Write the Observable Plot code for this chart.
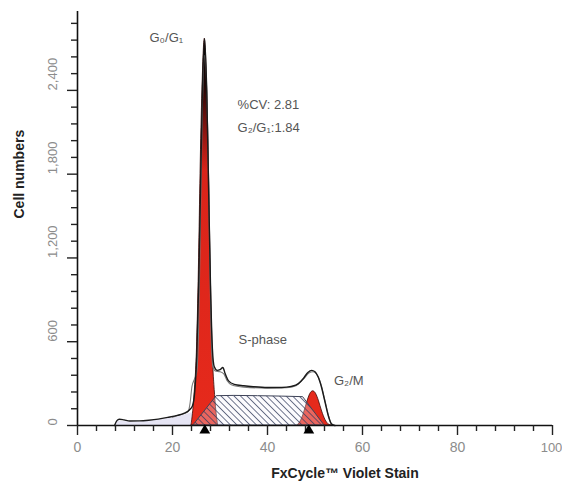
<!DOCTYPE html>
<html>
<head>
<meta charset="utf-8">
<script src="https://cdn.jsdelivr.net/npm/d3@7"></script>
<script src="https://cdn.jsdelivr.net/npm/@observablehq/plot@0.6"></script>
<style>
  html, body { margin: 0; padding: 0; background: #fff; }
  #chart svg { display: block; }
</style>
</head>
<body>
<div id="chart"></div>
<script>
// ---- Data ----
const xTicks = [0, 20, 40, 60, 80, 100];
const xMinor = [4, 8, 12, 16, 24, 28, 32, 36, 44, 48, 52, 56, 64, 68, 72, 76, 84, 88, 92, 96];
const yTicks = [0, 600, 1200, 1800, 2400];
const yMinor = [120, 240, 360, 480, 720, 840, 960, 1080, 1320, 1440, 1560, 1680, 1920, 2040, 2160, 2280, 2520, 2640, 2760, 2880];

// measured histogram (black line)
const dataX = [7.8, 8.3, 8.8, 9.8, 11, 13, 15, 17, 19, 21, 22.5, 23.5, 24.2, 24.7, 25.1, 25.5, 25.9, 26.3, 26.75, 27.2, 27.6, 28, 28.4, 28.8, 29.4, 30, 30.6, 31.1, 31.8, 33, 35, 37, 40, 43, 45, 46.5, 47.5, 48.5, 49.3, 50, 50.7, 51.4, 52.1, 52.8, 53.5, 54.2];
const dataY = [0, 35, 45, 40, 32, 33, 38, 46, 58, 72, 88, 110, 140, 250, 500, 1000, 1700, 2400, 2770, 2400, 1700, 1000, 550, 420, 395, 400, 415, 370, 320, 295, 285, 278, 272, 272, 280, 300, 335, 380, 395, 385, 345, 270, 170, 70, 10, 0];

// model sum (grey line)
const modelX = [20, 22, 23.3, 23.7, 24.1, 24.6, 25.1, 25.5, 25.9, 26.3, 26.8, 27.3, 27.7, 28.1, 28.5, 29, 30, 30.8, 31.5, 32.5, 35, 40, 44, 46, 47.5, 48.7, 49.6, 50.5, 51.3, 52, 52.7, 53.3, 54];
const modelY = [60, 80, 100, 160, 280, 330, 380, 700, 1500, 2300, 2650, 2300, 1500, 700, 420, 390, 385, 370, 320, 290, 275, 268, 270, 285, 330, 375, 385, 360, 290, 190, 90, 20, 0];

// G0/G1 fitted peak (red)
const g1X = [24.0, 24.6, 25.2, 25.6, 25.9, 26.3, 26.8, 27.3, 27.7, 28.0, 28.4, 29.0, 29.6];
const g1Y = [0, 200, 600, 1200, 1800, 2400, 2770, 2400, 1800, 1200, 600, 200, 0];

// G2/M fitted peak (red)
const g2X = [46.3, 47, 47.7, 48.4, 49, 49.6, 50.2, 50.8, 51.5, 52.2, 53, 53.5];
const g2Y = [0, 30, 90, 170, 225, 245, 228, 178, 100, 40, 5, 0];

// S-phase (hatched)
const sX = [24.4, 29.3, 33, 38, 43, 47.5, 52];
const sY = [0, 210, 212, 210, 207, 203, 0];

// debris (lavender)
const debX = [8, 8.4, 9.5, 11, 13, 15, 17, 19, 21, 22.5, 24, 26, 28, 30, 31];
const debY = [0, 30, 28, 25, 27, 32, 40, 50, 62, 75, 90, 95, 70, 25, 0];

// peak markers
const markerX = [26.8, 48.7];

// annotations
const peakLabel = {t: "G\u2080/G\u2081", x: 18.7, y: 2775};
const sideText = ["%CV: 2.81", "G\u2082/G\u2081:1.84", "S-phase", "G\u2082/M"];
const sideX = [33.7, 33.7, 33.9, 54.0];
const sideY = [2300, 2130, 610, 320];

// ---- build tables ----
const zip = (xs, ys) => xs.map((x, i) => ({x, y: ys[i]}));
const data = zip(dataX, dataY);
const model = zip(modelX, modelY);
const g1 = zip(g1X, g1Y);
const g2 = zip(g2X, g2Y);
const sph = zip(sX, sY);
const deb = zip(debX, debY);
const notes = sideText.map((t, i) => ({t, x: sideX[i], y: sideY[i]}));

const FONT = "'Liberation Sans', Arial, sans-serif";
const RED = "#e62a1c";

const chart = Plot.plot({
  width: 562,
  height: 487,
  marginLeft: 77,
  marginRight: 10,
  marginTop: 11,
  marginBottom: 62,
  style: {fontFamily: FONT, background: "#fff"},
  x: {domain: [0, 100]},
  y: {domain: [0, 2965]},
  marks: [
    // debris
    Plot.areaY(deb, {x: "x", y: "y", fill: "#dcdaf0", fillOpacity: 0.7, curve: "monotone-x"}),
    // red peaks
    Plot.areaY(g1, {x: "x", y: "y", fill: "url(#g1grad)", stroke: "#3a0a08", strokeWidth: 0.8, curve: "monotone-x"}),
    Plot.areaY(g2, {x: "x", y: "y", fill: RED, stroke: "#3a0a08", strokeWidth: 0.8, curve: "monotone-x"}),
    // S-phase
    Plot.areaY(sph, {x: "x", y: "y", fill: "#f4f2fb", fillOpacity: 0.3}),
    Plot.areaY(sph, {x: "x", y: "y", fill: "url(#hatch)", stroke: "#3e4358", strokeWidth: 1}),
    // model and data lines
    Plot.line(model, {x: "x", y: "y", stroke: "#7a7a7a", strokeWidth: 1.1, curve: "monotone-x"}),
    Plot.line(data, {x: "x", y: "y", stroke: "#1a1a1a", strokeWidth: 1.4, curve: "monotone-x"}),
    // axes
    Plot.ruleX([0], {stroke: "#111", strokeWidth: 1.6}),
    Plot.ruleY([0], {stroke: "#111", strokeWidth: 1.6}),
    Plot.axisY(yMinor, {anchor: "left", tickSize: 6, fill: "none", stroke: "#222", strokeWidth: 1.4, label: null}),
    Plot.axisY(yTicks, {anchor: "left", tickSize: 10, fill: "none", stroke: "#222", strokeWidth: 1.4, label: null}),
    Plot.axisX(xMinor, {anchor: "bottom", tickSize: 6, fill: "none", stroke: "#222", strokeWidth: 1.4, label: null}),
    Plot.axisX(xTicks, {anchor: "bottom", tickSize: 10, fill: "none", stroke: "#222", strokeWidth: 1.4, label: null}),
    Plot.text(yTicks, {y: d => d, text: d => d3.format(",")(d), frameAnchor: "left", dx: -25, rotate: -90, fill: "#8c8c8c", fontSize: 13}),
    Plot.text(xTicks.slice(0, -1), {x: d => d, text: d => String(d), frameAnchor: "bottom", dy: 26, fill: "#8c8c8c", fontSize: 14}),
    Plot.text(xTicks.slice(-1), {x: d => d, text: d => String(d), frameAnchor: "bottom", dy: 26, dx: -1, textAnchor: "middle", fill: "#8c8c8c", fontSize: 13}),
    Plot.text(["Cell numbers"], {text: d => d, frameAnchor: "left", dx: -58, rotate: -90, fill: "#222", fontSize: 14, fontWeight: "bold"}),
    Plot.text(["FxCycle\u2122 Violet Stain"], {text: d => d, frameAnchor: "bottom", dx: 30, dy: 52, fill: "#222", fontSize: 14, fontWeight: "bold"}),
    // markers
    Plot.dot(markerX, {x: d => d, y: 0, symbol: "triangle", r: 4, fill: "#000", stroke: "none", dy: 5}),
    // annotations
    Plot.text([peakLabel], {x: "x", y: "y", text: "t", textAnchor: "middle", fill: "#555", fontSize: 13}),
    Plot.text(notes, {x: "x", y: "y", text: "t", textAnchor: "start", fill: "#555", fontSize: 13})
  ]
});

// pattern + gradient definitions
const ns = "http://www.w3.org/2000/svg";
const defs = document.createElementNS(ns, "defs");
defs.innerHTML = `
  <pattern id="hatch" patternUnits="userSpaceOnUse" width="4.6" height="4.6" patternTransform="rotate(-45)">
    <line x1="0" y1="0" x2="0" y2="4.6" stroke="#333d5c" stroke-width="1.4"/>
  </pattern>
  <linearGradient id="g1grad" x1="0" y1="0" x2="0" y2="1">
    <stop offset="0" stop-color="#050505"/>
    <stop offset="0.12" stop-color="#1e0605"/>
    <stop offset="0.24" stop-color="#8c1510"/>
    <stop offset="0.34" stop-color="#d9241a"/>
    <stop offset="1" stop-color="${RED}"/>
  </linearGradient>`;
chart.insertBefore(defs, chart.firstChild);
document.getElementById("chart").appendChild(chart);
</script>
</body>
</html>
